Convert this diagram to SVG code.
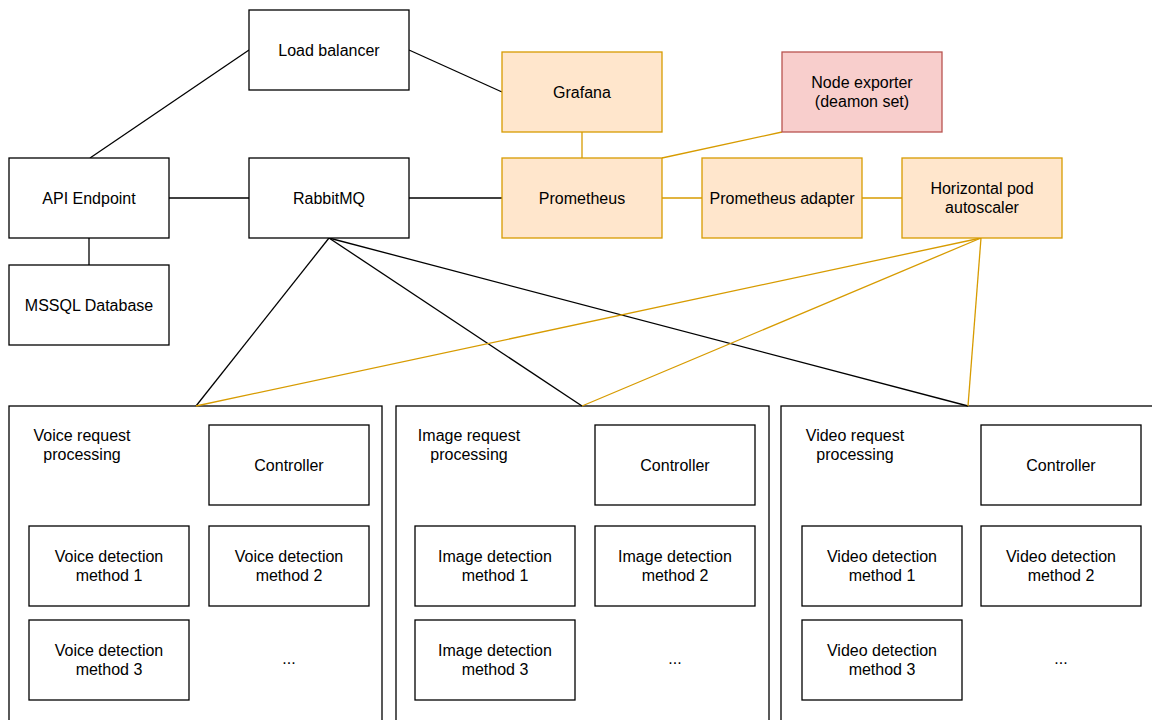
<svg xmlns="http://www.w3.org/2000/svg" width="1152" height="720" viewBox="0 0 1152 720">
<style>
text{font-family:"Liberation Sans",Arial,sans-serif;font-size:16px;fill:#000;text-anchor:middle}
.b{fill:#fff;stroke:#000;stroke-width:1.3}
.o{fill:#ffe6cc;stroke:#d79b00;stroke-width:1.3}
.p{fill:#f8cecc;stroke:#b85450;stroke-width:1.3}
.k{stroke:#000;stroke-width:1.3;fill:none}
.y{stroke:#d79b00;stroke-width:1.3;fill:none}
</style>
<rect width="1152" height="720" fill="#fff"/>
<g id="panels">
<g id="voice-panel"><rect class="b" x="9" y="406" width="373" height="330"/><text x="82" y="441">Voice request</text><text x="82" y="460">processing</text></g>
<g id="image-panel"><rect class="b" x="396" y="406" width="373" height="330"/><text x="469" y="441">Image request</text><text x="469" y="460">processing</text></g>
<g id="video-panel"><rect class="b" x="781" y="406" width="373" height="330"/><text x="855" y="441">Video request</text><text x="855" y="460">processing</text></g>
</g>
<g id="connectors">
<line class="k" x1="249" y1="50" x2="90" y2="158"/>
<line class="k" x1="409" y1="50" x2="502" y2="92"/>
<line class="k" x1="169" y1="198" x2="249" y2="198"/>
<line class="k" x1="89" y1="238" x2="89" y2="265"/>
<line class="k" x1="409" y1="198" x2="502" y2="198"/>
<line class="y" x1="582" y1="132" x2="582" y2="158"/>
<line class="y" x1="782" y1="132" x2="662" y2="158"/>
<line class="y" x1="662" y1="198" x2="702" y2="198"/>
<line class="y" x1="862" y1="198" x2="902" y2="198"/>
<line class="k" x1="329" y1="238" x2="196" y2="406"/>
<line class="k" x1="329" y1="238" x2="582" y2="406"/>
<line class="k" x1="329" y1="238" x2="968" y2="406"/>
<line class="y" x1="981" y1="238" x2="196" y2="406"/>
<line class="y" x1="981" y1="238" x2="582" y2="406"/>
<line class="y" x1="981" y1="238" x2="968" y2="406"/>
</g>
<g id="load-balancer"><rect class="b" x="249" y="10" width="160" height="80"/><text x="329" y="56">Load balancer</text></g>
<g id="api-endpoint"><rect class="b" x="9" y="158" width="160" height="80"/><text x="89" y="204">API Endpoint</text></g>
<g id="rabbitmq"><rect class="b" x="249" y="158" width="160" height="80"/><text x="329" y="204">RabbitMQ</text></g>
<g id="mssql"><rect class="b" x="9" y="265" width="160" height="80"/><text x="89" y="311">MSSQL Database</text></g>
<g id="grafana"><rect class="o" x="502" y="52" width="160" height="80"/><text x="582" y="98">Grafana</text></g>
<g id="node-exporter"><rect class="p" x="782" y="52" width="160" height="80"/><text x="862" y="88">Node exporter</text><text x="862" y="107">(deamon set)</text></g>
<g id="prometheus"><rect class="o" x="502" y="158" width="160" height="80"/><text x="582" y="204">Prometheus</text></g>
<g id="prometheus-adapter"><rect class="o" x="702" y="158" width="160" height="80"/><text x="782" y="204">Prometheus adapter</text></g>
<g id="hpa"><rect class="o" x="902" y="158" width="160" height="80"/><text x="982" y="194">Horizontal pod</text><text x="982" y="213">autoscaler</text></g>
<g id="voice-controller"><rect class="b" x="209" y="425" width="160" height="80"/><text x="289" y="471">Controller</text></g>
<g id="voice-m1"><rect class="b" x="29" y="526" width="160" height="80"/><text x="109" y="562">Voice detection</text><text x="109" y="581">method 1</text></g>
<g id="voice-m2"><rect class="b" x="209" y="526" width="160" height="80"/><text x="289" y="562">Voice detection</text><text x="289" y="581">method 2</text></g>
<g id="voice-m3"><rect class="b" x="29" y="620" width="160" height="80"/><text x="109" y="656">Voice detection</text><text x="109" y="675">method 3</text></g>
<g id="voice-more"><text x="289" y="664">...</text></g>
<g id="image-controller"><rect class="b" x="595" y="425" width="160" height="80"/><text x="675" y="471">Controller</text></g>
<g id="image-m1"><rect class="b" x="415" y="526" width="160" height="80"/><text x="495" y="562">Image detection</text><text x="495" y="581">method 1</text></g>
<g id="image-m2"><rect class="b" x="595" y="526" width="160" height="80"/><text x="675" y="562">Image detection</text><text x="675" y="581">method 2</text></g>
<g id="image-m3"><rect class="b" x="415" y="620" width="160" height="80"/><text x="495" y="656">Image detection</text><text x="495" y="675">method 3</text></g>
<g id="image-more"><text x="675" y="664">...</text></g>
<g id="video-controller"><rect class="b" x="981" y="425" width="160" height="80"/><text x="1061" y="471">Controller</text></g>
<g id="video-m1"><rect class="b" x="802" y="526" width="160" height="80"/><text x="882" y="562">Video detection</text><text x="882" y="581">method 1</text></g>
<g id="video-m2"><rect class="b" x="981" y="526" width="160" height="80"/><text x="1061" y="562">Video detection</text><text x="1061" y="581">method 2</text></g>
<g id="video-m3"><rect class="b" x="802" y="620" width="160" height="80"/><text x="882" y="656">Video detection</text><text x="882" y="675">method 3</text></g>
<g id="video-more"><text x="1061" y="664">...</text></g>
</svg>
